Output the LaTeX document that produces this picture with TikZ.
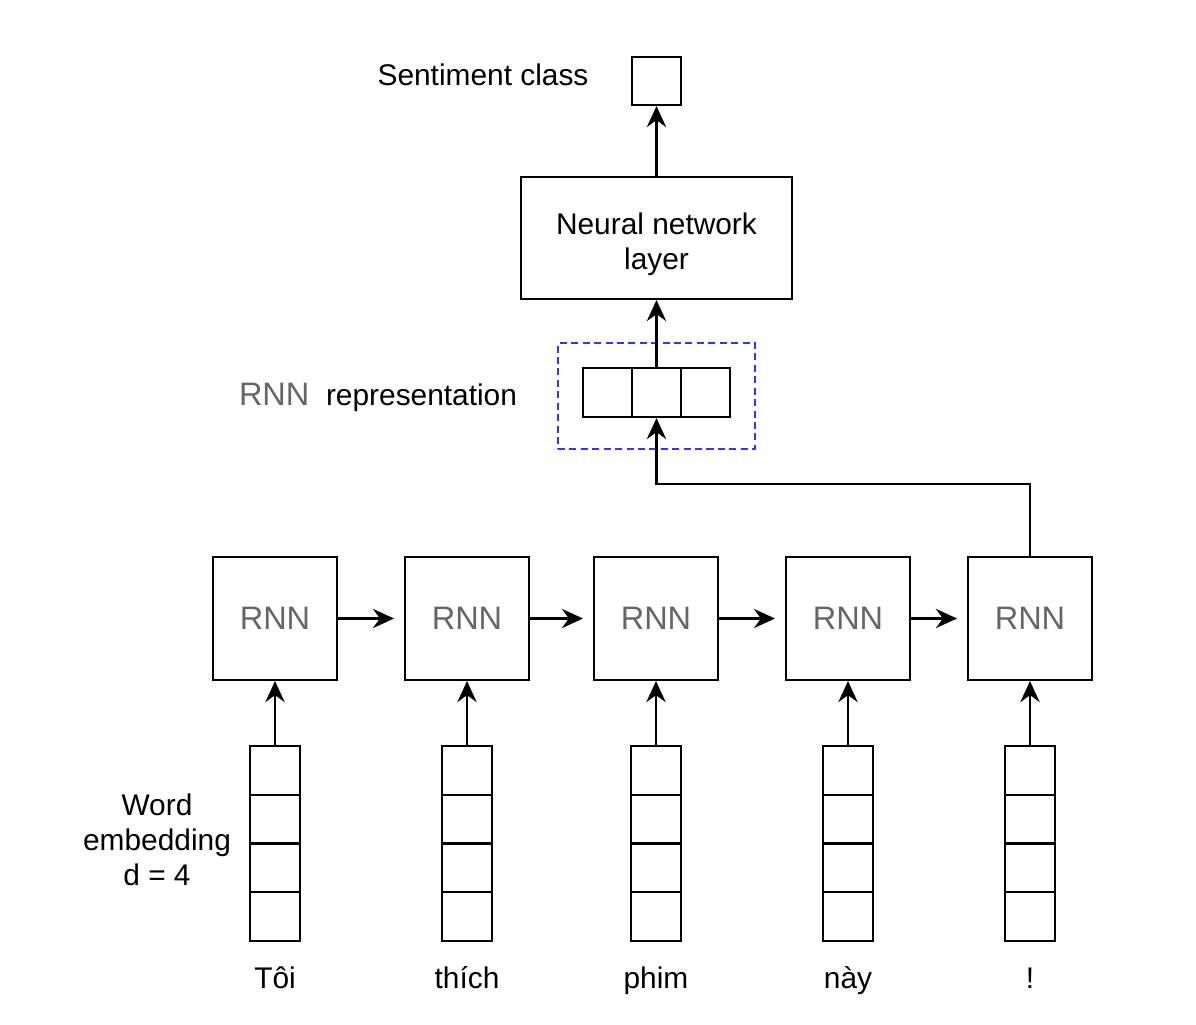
\documentclass[tikz,border=0pt]{standalone}
\usepackage{fontspec}
\setmainfont{Liberation Sans}
\usetikzlibrary{arrows.meta,positioning}
\definecolor{rnngray}{HTML}{666666}
\definecolor{dashblue}{HTML}{3333FF}

\begin{document}
\begin{tikzpicture}[x=0.02cm, y=-0.02cm,
    lbl/.style={font=\fontsize{17}{20}\selectfont, align=center},
    rnnbox/.style={draw, line width=1.2pt, minimum width=2.48cm, minimum height=2.46cm, inner sep=0pt,
        font=\fontsize{18.5}{22}\selectfont, text=rnngray},
    cell/.style={draw, line width=1.2pt, minimum width=1cm, minimum height=0.975cm, inner sep=0pt},
    arr/.style={-{Stealth[length=12pt, width=11pt, inset=4pt]}, line width=1.2pt}]
    \useasboundingbox (0,0) rectangle (1196,1024);
			\node[draw, line width=1.2pt, minimum width=0.98cm, minimum height=0.96cm] (out) at (656.5,81) {};
			\node[lbl] (sent) at (483,75) {Sentiment class};
			\node[draw, line width=1.2pt, minimum width=5.42cm, minimum height=2.44cm] (nn) at (656.5,238) {};
			\node[lbl] (nnlab) at (656.5,244) {Neural network\\layer};
			\node[draw, dashblue, dashed, line width=1pt, dash pattern=on 4pt off 2.5pt, minimum width=3.94cm, minimum height=2.12cm] (rep) at (656.5,396) {};
			\node[cell, minimum height=0.98cm, minimum width=0.98cm] (rep1) at (607.5,392.5) {};
			\node[cell, minimum height=0.98cm, minimum width=0.98cm] (rep2) at (656.5,392.5) {};
			\node[cell, minimum height=0.98cm, minimum width=0.98cm] (rep3) at (705.5,392.5) {};
			\node[lbl] (replab) at (378,397) {{\color{rnngray}\fontsize{18.5}{22}\selectfont RNN}\ \ representation};
			\node[lbl] (emblab) at (157,840) {Word\\embedding\\d = 4};
			\coordinate (bend) at (656.5,484);
			% one column per word
			\foreach \x/\w [count=\i] in {275/Tôi, 467/thích, 656/phim, 848/này, 1030/!} {
				\node[rnnbox] (r\i) at (\x,618.5) {RNN};
				\foreach \k in {1,...,4}
					\node[cell] (e\i\k) at (\x,{746+24.375+48.75*(\k-1)}) {};
				\node[lbl, anchor=base] (w\i) at (\x,988) {\w};
				\draw[arr] (e\i1) -- (r\i);
			}
			\draw[arr, shorten >=5.7pt] (r1) -- (r2);
			\draw[arr, shorten >=5.7pt] (r2) -- (r3);
			\draw[arr, shorten >=5.7pt] (r3) -- (r4);
			\draw[arr, shorten >=5.7pt] (r4) -- (r5);
			\draw[arr] (r5.north) |- (bend) -- (rep2.south);
			\draw[arr] (rep2.north) -- (nn.south);
			\draw[arr] (nn) -- (out);
\end{tikzpicture}
\end{document}
